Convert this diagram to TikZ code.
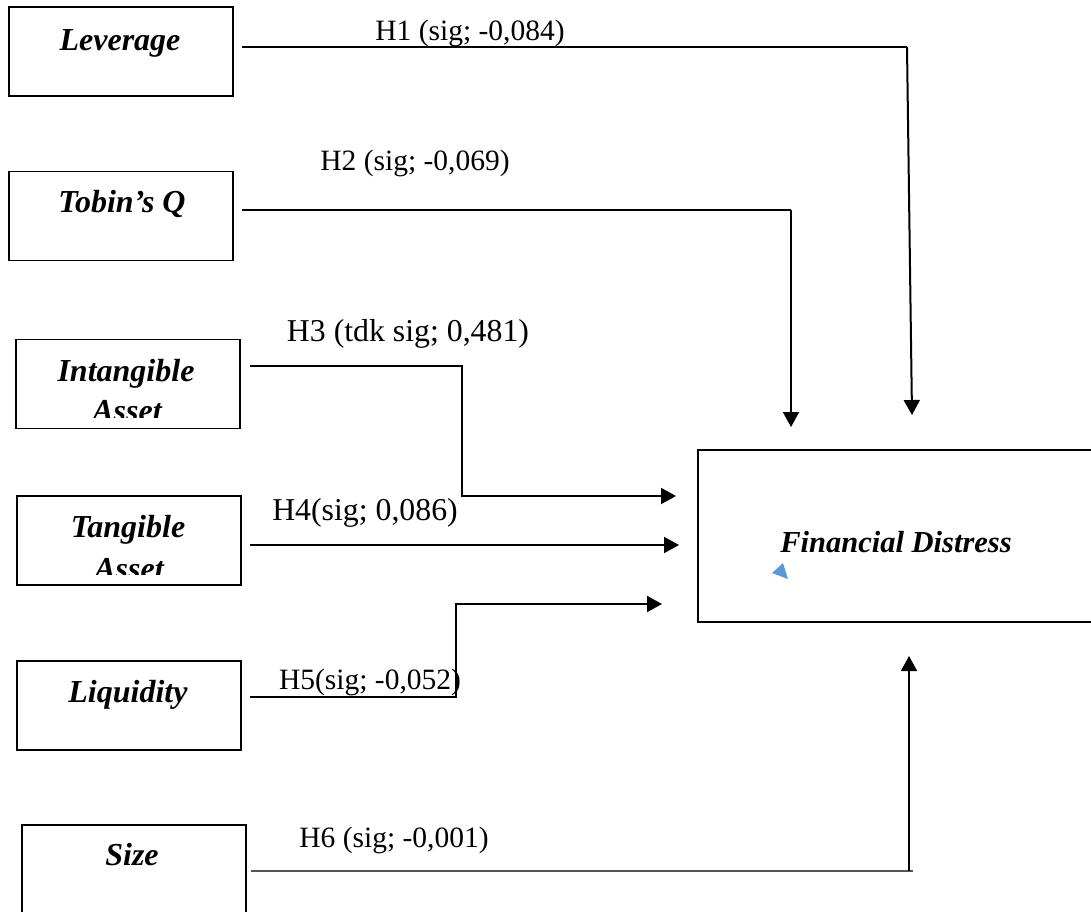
\documentclass[tikz,border=0pt]{standalone}
\usepackage{fontspec}
\setmainfont{Liberation Serif}
\usetikzlibrary{arrows.meta}
\tikzstyle{varbox}=[draw,line width=0.75pt,minimum width=112pt,minimum height=44.5pt,inner sep=0pt]
\tikzstyle{vartext}=[inner sep=0pt,anchor=base,font=\fontsize{16}{19}\selectfont\bfseries\itshape]
\tikzstyle{hyp}=[inner sep=0pt,anchor=base,font=\fontsize{14.75}{17}\selectfont]
\tikzstyle{hypbig}=[hyp,font=\fontsize{15.9}{19}\selectfont]
\tikzstyle{link}=[line width=1pt,-{Triangle[length=7.5pt,width=8pt]}]
\tikzstyle{thinlink}=[line width=0.65pt]
\definecolor{cursorblue}{RGB}{91,155,213}
\definecolor{darkline}{RGB}{85,85,85}

\begin{document}
\begin{tikzpicture}[x=0.5pt,y=-0.5pt]
\useasboundingbox (0,0) rectangle (1091,911);
% variable boxes
\draw (121, 51.5) node [varbox] (lev) {};
\draw (121, 216) node [varbox] (tob) {};
\draw (128, 384) node [varbox] (intang) {};
\draw (129, 540.5) node [varbox] (tang) {};
\draw (129, 705.5) node [varbox] (liq) {};
\draw (134, 869.5) node [varbox] (size) {};
\draw (897, 536) node [varbox, minimum width=199pt, minimum height=86pt] (fd) {};
\draw (120, 50) node [vartext] (levt) {Leverage};
\draw (122, 212) node [vartext] (tobt) {Tobin’s Q};
\draw (126, 381) node [vartext] (intangt) {Intangible};
\draw (128, 537) node [vartext] (tangt) {Tangible};
\draw (128, 702) node [vartext] (liqt) {Liquidity};
\draw (132, 865) node [vartext] (sizet) {Size};
\draw (896, 552) node [vartext, font=\fontsize{15.25}{18}\selectfont\bfseries\itshape] (fdt) {Financial Distress};
\begin{scope}
\clip (16,340) rectangle (240,417);
\draw (127, 421) node [vartext] (intanga) {Asset};
\end{scope}
\begin{scope}
\clip (17,496) rectangle (241,574);
\draw (129, 579) node [vartext] (tanga) {Asset};
\end{scope}
\fill[cursorblue] (772,573) -- (783,563) -- (788,579) -- cycle;
% hypothesis labels
\draw (470, 40) node [hyp] (h1lab) {H1 (sig; -0,084)};
\draw (415, 170) node [hyp] (h2lab) {H2 (sig; -0,069)};
\draw (408, 341) node [hypbig] (h3lab) {H3 (tdk sig; 0,481)};
\draw (365, 520) node [hypbig] (h4lab) {H4(sig; 0,086)};
\draw (370, 689) node [hyp] (h5lab) {H5(sig; -0,052)};
\draw (394, 847) node [hyp] (h6lab) {H6 (sig; -0,001)};
% bends and arrow tips
\coordinate (h1c) at (907, 47);
\coordinate (h1tip) at (912, 415);
\coordinate (h2c) at (791, 210);
\coordinate (h2tip) at (791, 427);
\coordinate (h3c) at (462, 496);
\coordinate (h3tip) at (676, 496);
\coordinate (h4tip) at (679, 545);
\coordinate (h5c) at (456, 604);
\coordinate (h5tip) at (662, 604);
\coordinate (h6c) at (909, 871);
\coordinate (h6tip) at (909, 656);
% connectors
\draw [thinlink] ([shift={(8,-4.5)}]lev.east) -- (h1c);
\draw [link] (h1c) -- (h1tip);
\draw [thinlink] ([shift={(8,-6)}]tob.east) -- (h2c);
\draw [link] (h2c) -- (h2tip);
\draw [link] ([shift={(9,-18)}]intang.east) -| (h3c) -- (h3tip);
\draw [link] ([shift={(8,4.5)}]tang.east) -- (h4tip);
\draw [link] ([shift={(8,-8.5)}]liq.east) -| (h5c) -- (h5tip);
\draw [line width=0.75pt, darkline] ([shift={(4,1.5)}]size.east) -- ([xshift=2pt]h6c);
\draw [link, line width=0.8pt] (h6c) -- (h6tip);
\end{tikzpicture}
\end{document}
